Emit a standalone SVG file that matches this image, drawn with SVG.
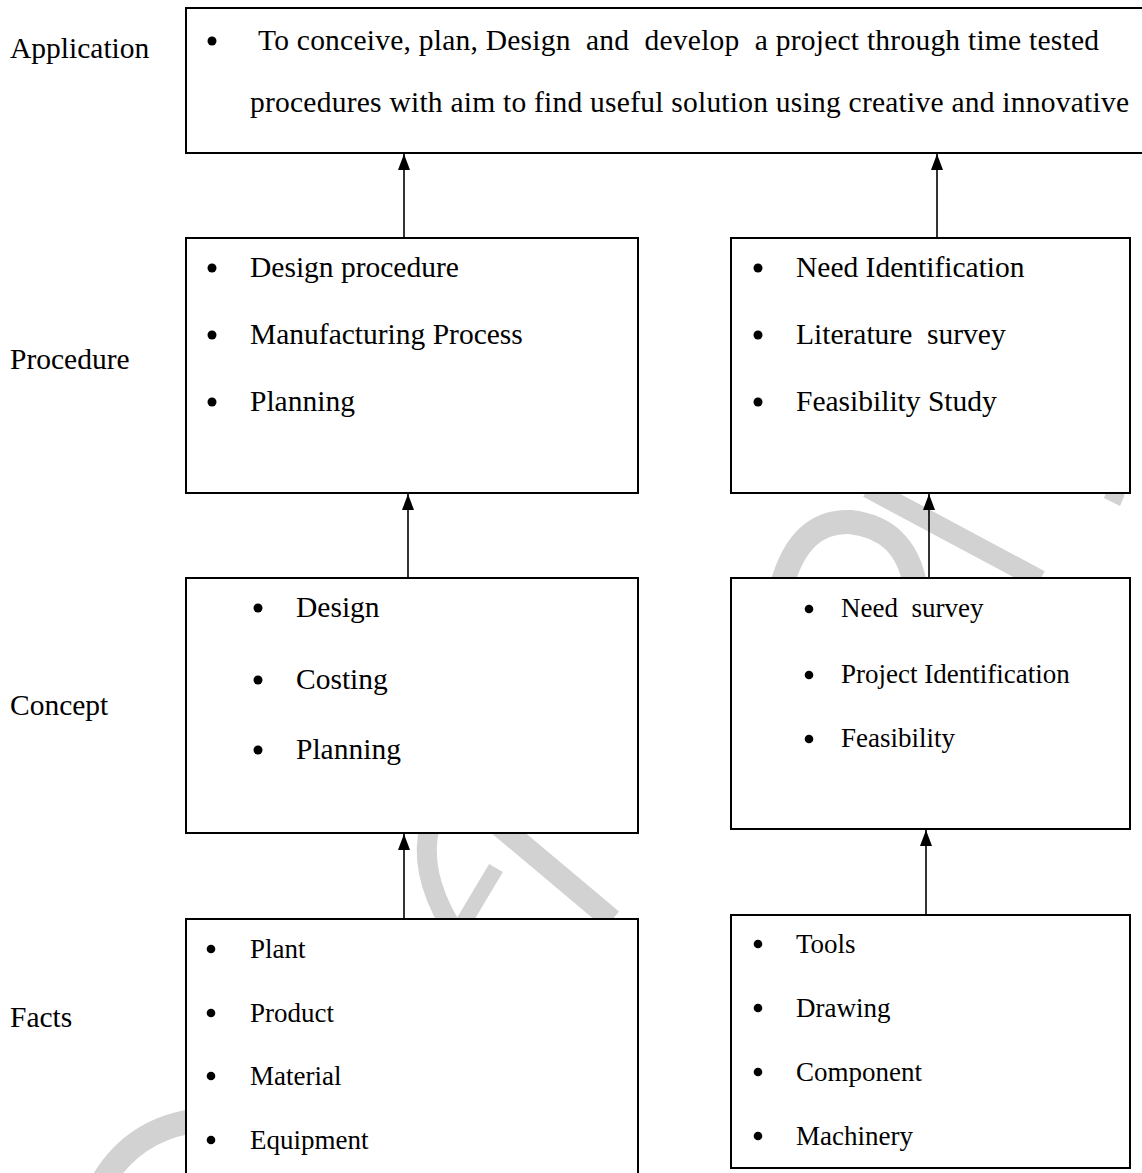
<svg xmlns="http://www.w3.org/2000/svg" width="1142" height="1173" viewBox="0 0 1142 1173">
<defs>
<style>
.box{fill:#fff;stroke:#000;stroke-width:2}
.t{font-family:"Liberation Serif","Times New Roman",serif;font-size:29.5px;fill:#000;white-space:pre}
.s{font-family:"Liberation Serif","Times New Roman",serif;font-size:27px;fill:#000;white-space:pre}
.b{fill:#000}
.con{stroke:#000;stroke-width:1.6;fill:none}
.wm{fill:none;stroke:#d2d2d2;stroke-linecap:butt}
</style>
<marker id="arr" viewBox="0 0 16 12" refX="16" refY="6" markerWidth="16" markerHeight="12" markerUnits="userSpaceOnUse" orient="auto">
<path d="M0,0 L16,6 L0,12 Z" fill="#000"/>
</marker>
</defs>
<rect width="1142" height="1173" fill="#fff"/>
<g id="watermark">
<path class="wm" stroke-width="24" d="M98,1190 Q130,1128 200,1120"/>
<path class="wm" stroke-width="20" d="M430,826 Q418,870 450,925"/>
<path class="wm" stroke-width="22" d="M500,826 L612,920"/>
<path class="wm" stroke-width="16" d="M462,925 L496,868"/>
<path class="wm" stroke-width="20" d="M868,488 L1040,580"/>
<path class="wm" stroke-width="24" d="M782,585 Q800,520 850,522 Q905,528 915,585"/>
<path class="wm" stroke-width="18" d="M1100,436 Q1128,470 1112,502"/>
</g>
<g id="labels">
<text class="t" x="10" y="58">Application</text>
<text class="t" x="10" y="369">Procedure</text>
<text class="t" x="10" y="715">Concept</text>
<text class="t" x="10" y="1027">Facts</text>
</g>
<g id="application">
<rect class="box" x="186" y="8" width="970" height="145"/>
<circle class="b" cx="212" cy="41" r="4.5"/>
<text class="t" x="258" y="50" textLength="841" lengthAdjust="spacing">To conceive, plan, Design  and  develop  a project through time tested</text>
<text class="t" x="250" y="112" textLength="879" lengthAdjust="spacing">procedures with aim to find useful solution using creative and innovative</text>
</g>
<g id="procedure-left">
<rect class="box" x="186" y="238" width="452" height="255"/>
<circle class="b" cx="212" cy="268" r="4.5"/>
<circle class="b" cx="212" cy="335" r="4.5"/>
<circle class="b" cx="212" cy="402" r="4.5"/>
<text class="t" x="250" y="277">Design procedure</text>
<text class="t" x="250" y="344">Manufacturing Process</text>
<text class="t" x="250" y="411">Planning</text>
</g>
<g id="procedure-right">
<rect class="box" x="731" y="238" width="399" height="255"/>
<circle class="b" cx="758" cy="268" r="4.5"/>
<circle class="b" cx="758" cy="335" r="4.5"/>
<circle class="b" cx="758" cy="402" r="4.5"/>
<text class="t" x="796" y="277">Need Identification</text>
<text class="t" x="796" y="344">Literature  survey</text>
<text class="t" x="796" y="411">Feasibility Study</text>
</g>
<g id="concept-left">
<rect class="box" x="186" y="578" width="452" height="255"/>
<circle class="b" cx="258" cy="608" r="4.5"/>
<circle class="b" cx="258" cy="680" r="4.5"/>
<circle class="b" cx="258" cy="750" r="4.5"/>
<text class="t" x="296" y="617">Design</text>
<text class="t" x="296" y="689">Costing</text>
<text class="t" x="296" y="759">Planning</text>
</g>
<g id="concept-right">
<rect class="box" x="731" y="578" width="399" height="251"/>
<circle class="b" cx="809" cy="609" r="4.3"/>
<circle class="b" cx="809" cy="675" r="4.3"/>
<circle class="b" cx="809" cy="739" r="4.3"/>
<text class="s" x="841" y="617">Need  survey</text>
<text class="s" x="841" y="683">Project Identification</text>
<text class="s" x="841" y="747">Feasibility</text>
</g>
<g id="facts-left">
<rect class="box" x="186" y="919" width="452" height="270"/>
<circle class="b" cx="211" cy="949" r="4.3"/>
<circle class="b" cx="211" cy="1013" r="4.3"/>
<circle class="b" cx="211" cy="1076" r="4.3"/>
<circle class="b" cx="211" cy="1140" r="4.3"/>
<text class="s" x="250" y="958">Plant</text>
<text class="s" x="250" y="1022">Product</text>
<text class="s" x="250" y="1085">Material</text>
<text class="s" x="250" y="1149">Equipment</text>
</g>
<g id="facts-right">
<rect class="box" x="731" y="915" width="399" height="253"/>
<circle class="b" cx="758" cy="944" r="4.3"/>
<circle class="b" cx="758" cy="1008" r="4.3"/>
<circle class="b" cx="758" cy="1072" r="4.3"/>
<circle class="b" cx="758" cy="1136" r="4.3"/>
<text class="s" x="796" y="953">Tools</text>
<text class="s" x="796" y="1017">Drawing</text>
<text class="s" x="796" y="1081">Component</text>
<text class="s" x="796" y="1145">Machinery</text>
</g>
<g id="connectors">
<line class="con" x1="404" y1="238" x2="404" y2="154" marker-end="url(#arr)"/>
<line class="con" x1="937" y1="238" x2="937" y2="154" marker-end="url(#arr)"/>
<line class="con" x1="408" y1="578" x2="408" y2="494" marker-end="url(#arr)"/>
<line class="con" x1="929" y1="577" x2="929" y2="494" marker-end="url(#arr)"/>
<line class="con" x1="404" y1="919" x2="404" y2="834" marker-end="url(#arr)"/>
<line class="con" x1="926" y1="915" x2="926" y2="830" marker-end="url(#arr)"/>
</g>
</svg>
